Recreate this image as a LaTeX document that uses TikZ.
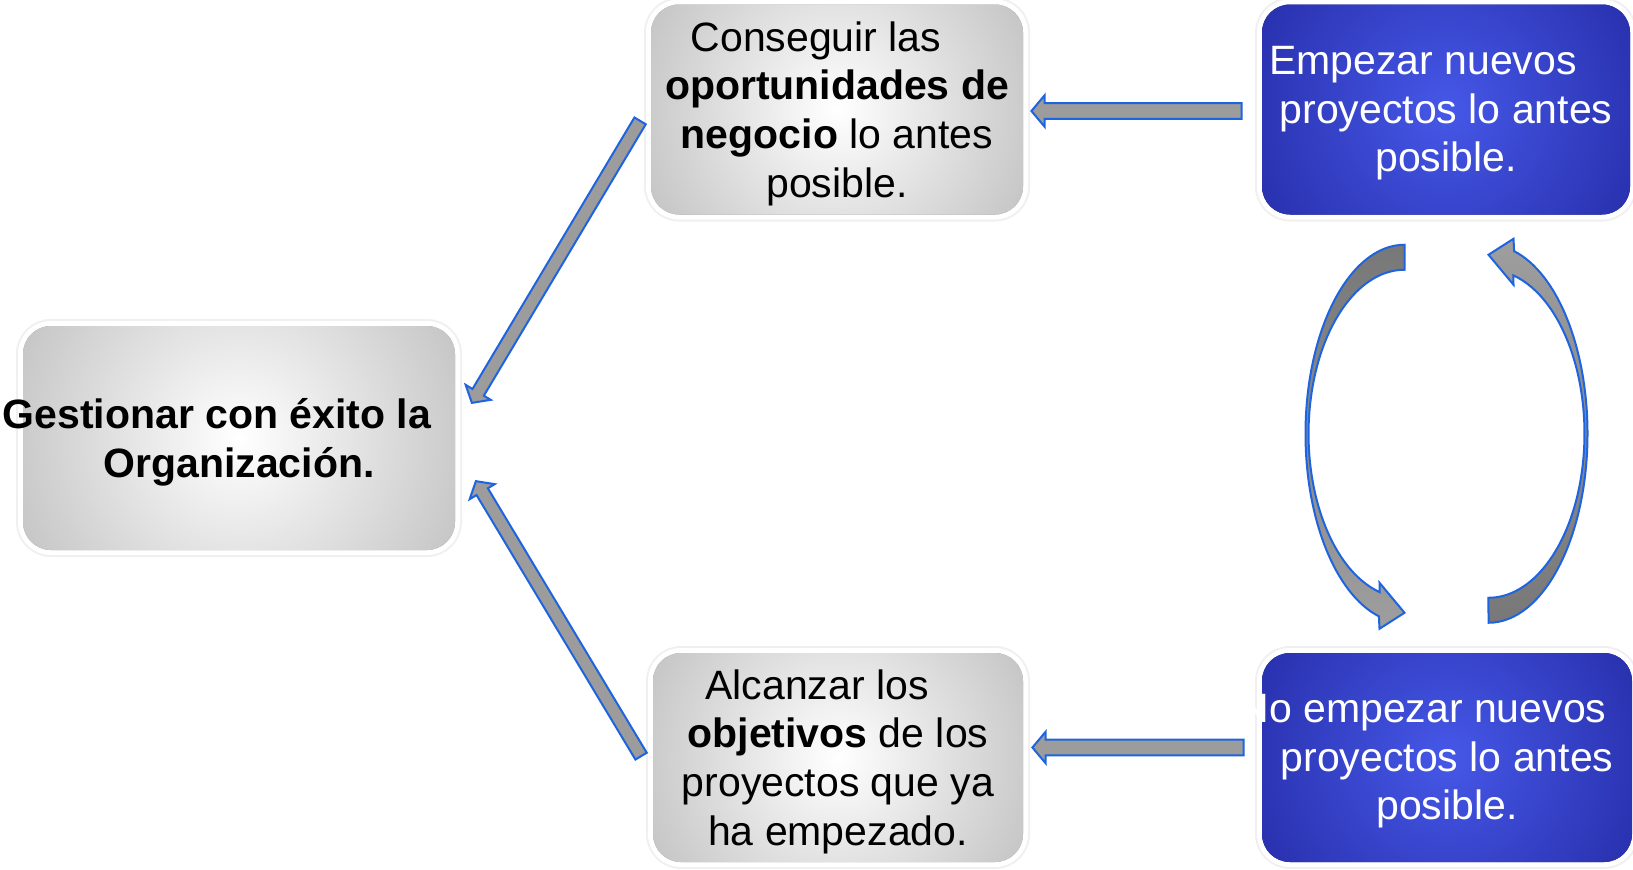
\documentclass[tikz,border=0pt]{standalone}
\usepackage{fontspec}
\setmainfont{Liberation Sans}
\usetikzlibrary{shapes.arrows,calc}

\definecolor{boxgray}{RGB}{150,150,150}
\definecolor{boxblue}{RGB}{16,16,126}
\definecolor{glowblue}{RGB}{70,88,232}
\definecolor{arrowgray}{RGB}{156,156,156}
\definecolor{arrowblue}{RGB}{30,100,224}

\tikzset{
  caja/.style={rounded corners=14pt, inner sep=0pt,
    preaction={draw=black!6, line width=7pt},
    preaction={draw=white, line width=5pt}},
  cajagris/.style={caja, fill=boxgray, path picture={
    \shade[inner color=white, outer color=boxgray] (path picture bounding box.center) circle[radius=#1];}},
  cajaazul/.style={caja, fill=boxblue, path picture={
    \shade[inner color=glowblue, outer color=boxblue] (path picture bounding box.center) circle[radius=190pt];}},
  texto/.style={align=center, yshift=-2pt, font=\fontsize{20.5}{24.3}\selectfont},
  flecha/.style={single arrow, draw=arrowblue, fill=arrowgray, line width=1pt,
    inner xsep=0pt, inner ysep=3.4pt, single arrow head extend=4pt,
    single arrow tip angle=100},
  curva/.style={draw=arrowblue, line width=1pt}
}

\newcommand\blockarrow[4][]{%
  \path let \p1=($(#4)-(#3)$), \n1={atan2(\y1,\x1)}, \n2={veclen(\x1,\y1)} in
    node[flecha, #1, rotate=\n1, minimum height=\n2, anchor=tail] (#2) at (#3) {};}

\begin{document}
\begin{tikzpicture}[x=0.5pt,y=-0.5pt]

	\fill[white] (0,0) rectangle (1633,869);
	\useasboundingbox (0,0) rectangle (1633,869);

	\node[cajagris=220pt, minimum width=216pt, minimum height=112pt] (gestion) at (239,438) {};
	\node[texto] (gestion-t) at (gestion) {\bfseries Gestionar con éxito la\hspace*{22pt}\\\bfseries Organización.};

	\node[cajagris=190pt, minimum width=186pt, minimum height=105pt] (conseguir) at (837,109.5) {};
	\node[texto] (conseguir-t) at (conseguir) {Conseguir las\hspace*{21pt}\\\textbf{oportunidades de}\\\textbf{negocio} lo antes\\posible.};

	\node[cajagris=190pt, minimum width=185pt, minimum height=104.5pt] (alcanzar) at (838,757.5) {};
	\node[texto] (alcanzar-t) at (alcanzar) {Alcanzar los\hspace*{21pt}\\\textbf{objetivos} de los\\proyectos que ya\\ha empezado.};

	\node[cajaazul, minimum width=184pt, minimum height=105pt] (empezar) at (1446,109.5) {};
	\node[texto, text=white] (empezar-t) at (empezar) {Empezar nuevos\hspace*{23pt}\\proyectos lo antes\\posible.};

	\node[cajaazul, minimum width=185pt, minimum height=104.5pt] (noempezar) at (1447,757.5) {};
	\node[texto, text=white] (noempezar-t) at (noempezar) {No empezar nuevos\hspace*{24pt}\\proyectos lo antes\\posible.};

	\coordinate (a1) at ($(empezar.west)+(-19,1.5)$);
	\coordinate (b1) at ($(conseguir.east)+(9,1.5)$);
	\coordinate (a2) at ($(noempezar.west)+(-17,-10)$);
	\coordinate (b2) at ($(alcanzar.east)+(10,-10)$);
	\coordinate (a3) at ($(conseguir.west)+(-10,10.5)$);
	\coordinate (b3) at ($(gestion.east)+(17,-36)$);
	\coordinate (a4) at ($(alcanzar.west)+(-11,-0.5)$);
	\coordinate (b4) at ($(gestion.east)+(21,44)$);

	\blockarrow{f1}{a1}{b1}
	\blockarrow{f2}{a2}{b2}
	\blockarrow[inner ysep=2.8pt]{f3}{a3}{b3}
	\blockarrow[inner ysep=2.8pt]{f4}{a4}{b4}

	\coordinate (ciclo) at ($(empezar.south)!0.5!(noempezar.north)$);
	\begin{scope}[shift={(ciclo)}]
		\shadedraw[curva, top color=black!53, bottom color=black!38]
			(-42,-189) arc[start angle=270, end angle=105, x radius=99, y radius=189]
			-- (-67,195) -- (-42,179) -- (-67,149) -- (-66.8,158.4)
			arc[start angle=105, end angle=270, x radius=96, y radius=164] -- cycle;
		\shadedraw[curva, top color=black!38, bottom color=black!53]
			(42,189) arc[start angle=90, end angle=-75, x radius=99, y radius=189]
			-- (67,-195) -- (42,-179) -- (67,-149) -- (66.8,-158.4)
			arc[start angle=-75, end angle=90, x radius=96, y radius=164] -- cycle;
	\end{scope}

\end{tikzpicture}
\end{document}
